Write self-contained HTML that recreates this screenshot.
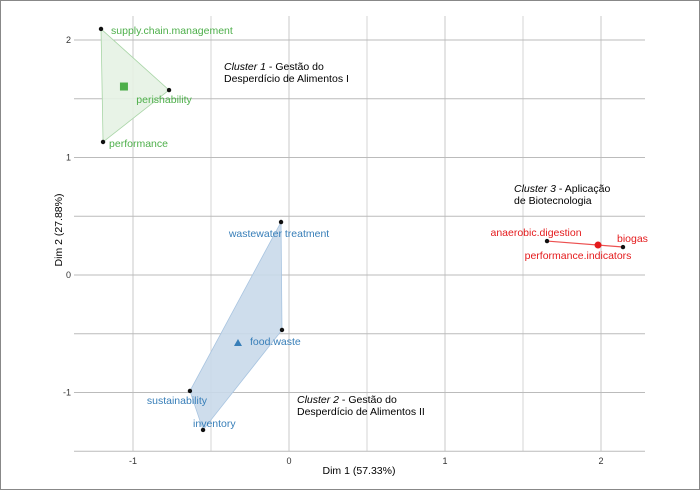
<!DOCTYPE html>
<html><head><meta charset="utf-8"><style>
body{margin:0;background:#fff}
svg{display:block;font-family:"Liberation Sans",sans-serif}
</style></head><body>
<svg id="c" width="700" height="490">
<rect x="0.5" y="0.5" width="699" height="489" fill="#fff" stroke="#888"/>
<g id="grid"></g><g id="hulls"></g><g id="pts"></g>
<text x="359" y="474" font-size="10.5" text-anchor="middle">Dim 1 (57.33%)</text>
<text transform="translate(62,230) rotate(-90)" font-size="10.5" text-anchor="middle">Dim 2 (27.88%)</text>
<text x="224" y="70" font-size="10.5"><tspan font-style="italic">Cluster 1</tspan> - Gestão do<tspan x="224" dy="12">Desperdício de Alimentos I</tspan></text>
<text x="297" y="403" font-size="10.5"><tspan font-style="italic">Cluster 2</tspan> - Gestão do<tspan x="297" dy="12">Desperdício de Alimentos II</tspan></text>
<text x="514" y="192" font-size="10.5"><tspan font-style="italic">Cluster 3</tspan> - Aplicação<tspan x="514" dy="12">de Biotecnologia</tspan></text>
</svg>
<script>
const xTicks=[-1,0,1,2];
const yTicks=[-1,0,1,2];
const names=["supply.chain.management","perishability","performance","wastewater treatment","food.waste","sustainability","inventory","anaerobic.digestion","biogas"];
const xs=[-1.205,-0.769,-1.192,-0.051,-0.045,-0.635,-0.551,1.654,2.141];
const ys=[2.094,1.574,1.132,0.451,-0.468,-0.987,-1.319,0.289,0.238];
const clusters=[1,1,1,2,2,2,2,3,3];
const centX=[-1.058,-0.327,1.981];
const centY=[1.604,-0.579,0.255];
const X=v=>289+v*156, Y=v=>275-v*117.5;
const NS="http://www.w3.org/2000/svg";
function mk(p,t,a){const e=document.createElementNS(NS,t);for(const k in a)e.setAttribute(k,a[k]);p.appendChild(e);return e;}
const g=document.getElementById('grid');
for(let v=-1.5;v<=2.5;v+=0.5){const x=X(v);if(x<74||x>645)continue;
 const l=mk(g,'line',{x1:x,x2:x,y1:16,y2:451,stroke:'#d8d8d8','stroke-width':v%1===0?1.4:1.1});
 
 }
for(let v=-1.5;v<=2.5;v+=0.5){const y=Y(v);if(y<16||y>452)continue;
 const l=mk(g,'line',{x1:74,x2:645,y1:y,y2:y,stroke:'#bbb','stroke-width':1});
 
 }
xTicks.forEach(v=>{const t=mk(g,'text',{x:X(v),y:464,'font-size':9,'text-anchor':'middle',fill:'#333'});t.textContent=v;
 
 });
yTicks.forEach(v=>{const t=mk(g,'text',{x:71,y:Y(v)+3,'font-size':9,'text-anchor':'end',fill:'#333'});t.textContent=v;
 
 });
function hull(P){P=P.slice().sort((a,b)=>a[0]-b[0]||a[1]-b[1]);const cr=(o,a,b)=>(a[0]-o[0])*(b[1]-o[1])-(a[1]-o[1])*(b[0]-o[0]);
 const lo=[],up=[];for(const p of P){while(lo.length>=2&&cr(lo[lo.length-2],lo[lo.length-1],p)<=0)lo.pop();lo.push(p);}
 for(const p of P.slice().reverse()){while(up.length>=2&&cr(up[up.length-2],up[up.length-1],p)<=0)up.pop();up.push(p);}
 return lo.slice(0,-1).concat(up.slice(0,-1));}
const cols={1:['#4daf4a','#e5f2e4','#a8d5a6'],2:['#377eb8','#c9d9ea','#a8c4e0'],3:['#e41a1c','#fbd','#f07878']};
const hg=document.getElementById('hulls'),pg=document.getElementById('pts');
[1,2,3].forEach(c=>{const P=[];xs.forEach((x,i)=>{if(clusters[i]===c)P.push([X(x),Y(ys[i])]);});
 const h=hull(P);
 const e=mk(hg,'polygon',{points:h.map(p=>p.join(',')).join(' '),fill:c===3?'none':cols[c][1],stroke:cols[c][2],'stroke-width':c===3?1.2:0.8,'fill-opacity':c===3?0:0.9});
 if(c===3)e.setAttribute('stroke','#ec5050');
 
 });
const lbl=[[10,5,'start'],[-5,13,'middle'],[6,5,'start'],[-2,15,'middle'],[-32,15,'start'],[-13,13,'middle'],[-10,-3,'start'],[-11,-5,'middle'],[-6,-5,'start']];
xs.forEach((x,i)=>{const cx=X(x),cy=Y(ys[i]);
 const d=mk(pg,'circle',{cx,cy,r:2.2,fill:'#111'});
 
 
 const o=lbl[i];const t=mk(pg,'text',{x:cx+o[0],y:cy+o[1],'font-size':10.5,'text-anchor':o[2],fill:cols[clusters[i]][0]});t.textContent=names[i];
 
 });
{const cx=X(centX[0]),cy=Y(centY[0]);const e=mk(pg,'rect',{x:cx-4,y:cy-4,width:8,height:8,fill:'#4daf4a'});
 
 }
{const cx=X(centX[1]),cy=Y(centY[1]);const e=mk(pg,'polygon',{points:`${cx},${cy-4} ${cx-4},${cy+3} ${cx+4},${cy+3}`,fill:'#377eb8'});
 
 }
{const cx=X(centX[2]),cy=Y(centY[2]);const e=mk(pg,'circle',{cx,cy,r:3.5,fill:'#e41a1c'});
 
 
 const t=mk(pg,'text',{x:cx-20,y:cy+14,'font-size':10.5,'text-anchor':'middle',fill:'#e41a1c'});t.textContent='performance.indicators';
 
 }
</script>
</body></html>
